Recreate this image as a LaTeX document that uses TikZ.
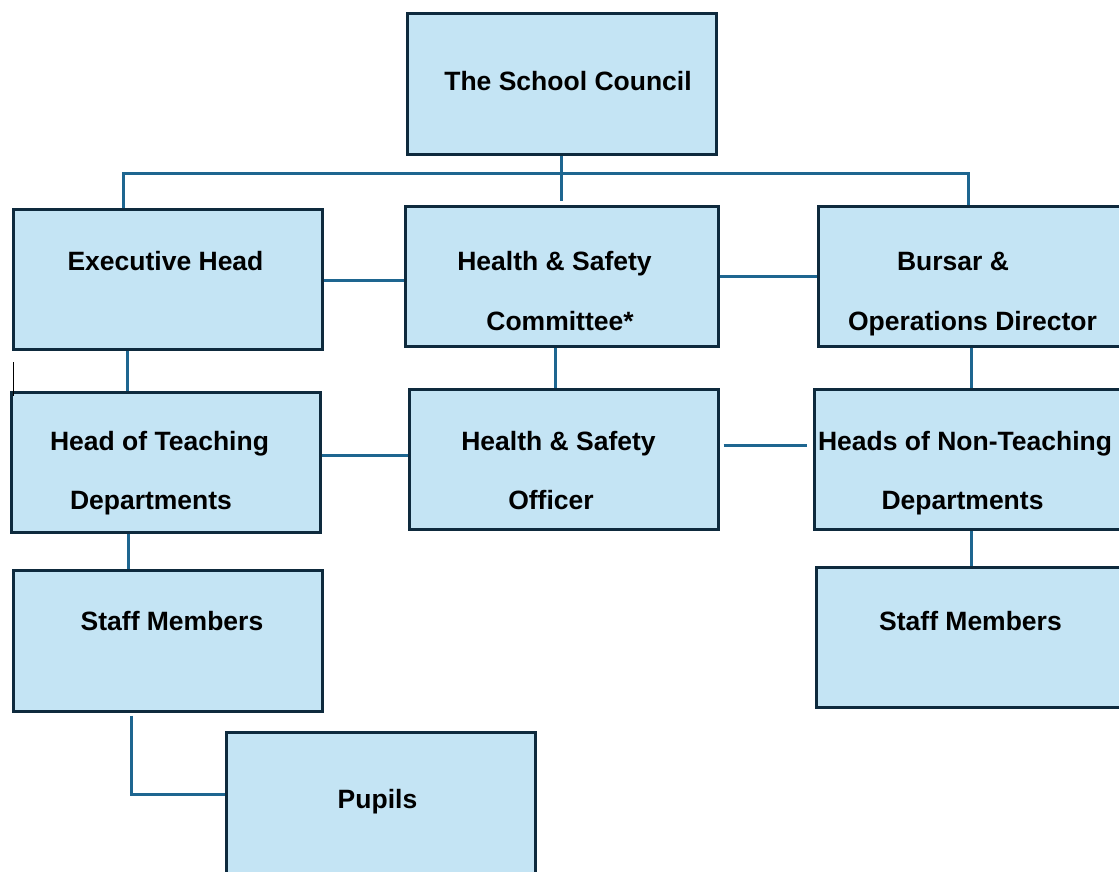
\documentclass[tikz,border=0pt]{standalone}
\usepackage{fontspec}
\setmainfont{Liberation Sans}
\usetikzlibrary{calc}
\definecolor{boxfill}{HTML}{C4E4F4}
\definecolor{boxline}{HTML}{0E2A3D}
\definecolor{connline}{HTML}{1E6690}
\tikzset{
  box/.style={draw=boxline, fill=boxfill, line width=3pt, rectangle, inner sep=0pt},
  lbl/.style={anchor=base, inner sep=0pt, font=\fontsize{26.5}{30}\selectfont\bfseries, text=black},
  conn/.style={draw=connline, line width=2.8pt},
}
\begin{document}
\begin{tikzpicture}[x=1pt,y=-1pt]
\useasboundingbox (0,0) rectangle (1119,871);
\clip (0,0) rectangle (1119,871);
\fill[white] (0,0) rectangle (1119,871);

% boxes
\node[box, minimum width=309pt, minimum height=141pt] (sc)  at (561.5,83.5) {};
\node[box, minimum width=309pt, minimum height=140pt] (eh)  at (167.5,279) {};
\node[box, minimum width=313pt, minimum height=140pt] (hsc) at (561.5,276) {};
\node[box, minimum width=320pt, minimum height=140pt] (bur) at (978,276) {};
\node[box, minimum width=309pt, minimum height=140pt] (htd) at (165.5,462) {};
\node[box, minimum width=309pt, minimum height=140pt] (hso) at (563.5,459) {};
\node[box, minimum width=320pt, minimum height=140pt] (hnt) at (974,459) {};
\node[box, minimum width=309pt, minimum height=141pt] (sml) at (167.5,640.5) {};
\node[box, minimum width=320pt, minimum height=140pt] (smr) at (976,637) {};
\node[box, minimum width=309pt, minimum height=160pt] (pup) at (380.5,812) {};

% labels
\node[lbl] (tsc)  at (568,90)   {The School Council};
\node[lbl] (teh)  at (165.5,270) {Executive Head};
\node[lbl] (thsc1) at (554.5,270) {Health \& Safety};
\node[lbl] (thsc2) at (560,330) {Committee*};
\node[lbl] (tbur1) at (953,270) {Bursar \&};
\node[lbl] (tbur2) at (972.5,330) {Operations Director};
\node[lbl] (thtd1) at (159.5,450) {Head of Teaching};
\node[lbl] (thtd2) at (151,509) {Departments};
\node[lbl] (thso1) at (558.5,450) {Health \& Safety};
\node[lbl] (thso2) at (551,509) {Officer};
\node[lbl] (thnt1) at (965,450) {Heads of Non-Teaching};
\node[lbl] (thnt2) at (962.5,509) {Departments};
\node[lbl] (tsml) at (172,630) {Staff Members};
\node[lbl] (tsmr) at (970.5,630) {Staff Members};
\node[lbl] (tpup) at (377.5,808) {Pupils};

% connectors
\draw[conn] ($(sc.south west)+(156,0)$) -- ($(hsc.north west)+(158,-4)$);
\draw[conn] ($(eh.north west)+(112,0)$) -- ++(0,-34) -| ($(bur.north west)+(152,0)$);
\draw[conn] ($(eh.north east)+(0,73)$) coordinate (a1) -- (a1 -| hsc.west);
\draw[conn] ($(hsc.north east)+(0,72)$) coordinate (a2) -- (a2 -| bur.west);
\draw[conn] ($(eh.south west)+(116,0)$) coordinate (a3) -- (a3 |- htd.north);
\draw[conn] ($(hsc.south west)+(152,0)$) coordinate (a4) -- (a4 |- hso.north);
\draw[conn] ($(bur.south west)+(155,0)$) coordinate (a5) -- (a5 |- hnt.north);
\draw[conn] ($(htd.north east)+(0,65)$) coordinate (a6) -- (a6 -| hso.west);
\draw[conn] ($(hso.north east)+(4,58)$) -- ($(hnt.north west)+(-6,58)$);
\draw[conn] ($(htd.south west)+(119,0)$) coordinate (a7) -- (a7 |- sml.north);
\draw[conn] ($(hnt.south west)+(159,0)$) coordinate (a8) -- (a8 |- smr.north);
\draw[conn] ($(sml.south west)+(120,3)$) |- ($(pup.north west)+(0,64)$);

% stray tick
\draw[black, line width=1pt] (13,362) -- (13,396);
\end{tikzpicture}
\end{document}
